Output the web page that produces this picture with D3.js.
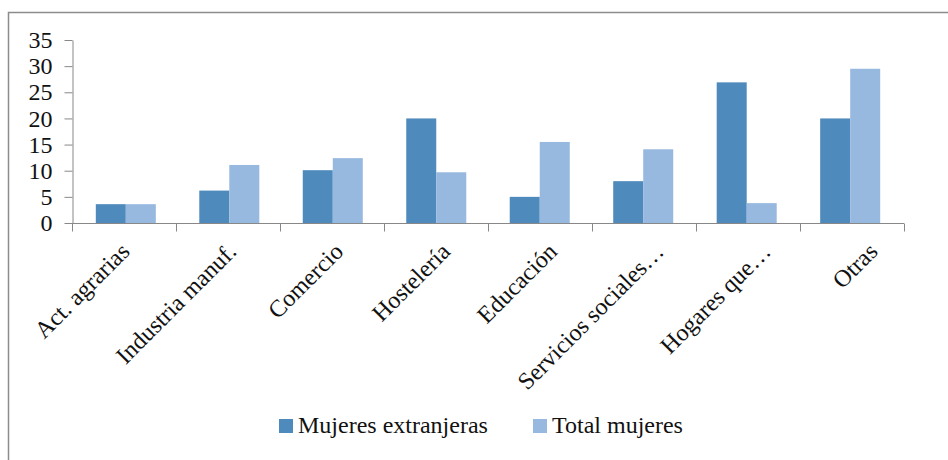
<!DOCTYPE html>
<html><head><meta charset="utf-8">
<script src="https://cdn.jsdelivr.net/npm/d3@7"></script>
<style>html,body{margin:0;padding:0;background:#fff;}svg{display:block;}</style>
</head><body>
<script>
const categories = ["Act. agrarias","Industria manuf.","Comercio","Hostelería","Educación","Servicios sociales…","Hogares que…","Otras"];
const seriesNames = ["Mujeres extranjeras","Total mujeres"];
const mujeresExtranjeras = [3.6, 6.2, 10.1, 20.0, 5.0, 8.0, 26.9, 20.0];
const totalMujeres = [3.6, 11.1, 12.4, 9.7, 15.5, 14.1, 3.8, 29.5];
const yTicks = [0,5,10,15,20,25,30,35];
const colors = ["#4F8ABD","#97B8DF"];

(function(){
const W = 948, H = 460;
const svg = d3.select("body").append("svg").attr("width", W).attr("height", H);
const font = "'Liberation Serif', 'Times New Roman', serif";

// frame (cropped: top and left visible)
svg.append("path").attr("d", `M8.5,${H} V12.5 H${W}`).attr("fill","none").attr("stroke","#8c8c8c").attr("stroke-width",1.5);

const pLeft = 72, pRight = 904, pTop = 40, pBottom = 223;
const x0 = d3.scaleBand().domain(categories).range([pLeft, pRight]).paddingInner(0.42).paddingOuter(0.23);
const x1 = d3.scaleBand().domain(seriesNames).range([0, x0.bandwidth()]);
const y = d3.scaleLinear().domain([0,35]).range([pBottom, pTop]);
const xCat = d3.scaleBand().domain(categories).range([pLeft, pRight]);
const xLabel = d3.scalePoint().domain(categories).range([131, 879]);

const data = categories.map((c,i)=>({c, vals:[mujeresExtranjeras[i], totalMujeres[i]]}));

svg.append("g").selectAll("g.cat").data(data).join("g").attr("class","cat")
  .attr("transform", d=>`translate(${x0(d.c)},0)`)
  .selectAll("rect").data(d=>d.vals.map((v,j)=>({s:seriesNames[j], v, j})))
  .join("rect")
  .attr("x", d=>x1(d.s)).attr("width", x1.bandwidth())
  .attr("y", d=>y(d.v)).attr("height", d=>y(0)-y(d.v))
  .attr("fill", d=>colors[d.j]);

// y axis
const yAxis = svg.append("g").attr("transform",`translate(${pLeft+0.5},0)`)
  .call(d3.axisLeft(y).tickValues(yTicks).tickSize(8).tickPadding(12).tickSizeOuter(0));
yAxis.select(".domain").attr("stroke","#888");
yAxis.selectAll(".tick line").attr("stroke","#888");
yAxis.selectAll(".tick text").attr("font-family",font).attr("font-size",24).attr("fill","#111");

// x axis
const xAxisG = svg.append("g").attr("transform",`translate(0,${pBottom+0.5})`);
xAxisG.append("line").attr("x1",pLeft).attr("x2",pRight).attr("stroke","#888");
const bounds = categories.map(c=>xCat(c)).concat([pRight]);
xAxisG.selectAll("line.tk").data(bounds).join("line").attr("class","tk")
  .attr("x1",d=>Math.round(d)+0.5).attr("x2",d=>Math.round(d)+0.5).attr("y1",0).attr("y2",8).attr("stroke","#888");

svg.append("g").selectAll("text").data(categories).join("text")
  .attr("transform", d=>`translate(${xLabel(d)},253) rotate(-45)`)
  .attr("text-anchor","end")
  .attr("font-family",font).attr("font-size",24).attr("fill","#111")
  .text(d=>d);

// legend
const leg = svg.append("g");
const legX = [279, 533];
seriesNames.forEach((s,i)=>{
  leg.append("rect").attr("x",legX[i]).attr("y",419).attr("width",14).attr("height",14).attr("fill",colors[i]);
  leg.append("text").attr("x",legX[i]+19).attr("y",433).attr("font-family",font).attr("font-size",24).attr("fill","#111").text(s);
});
})();
</script>
</body></html>
